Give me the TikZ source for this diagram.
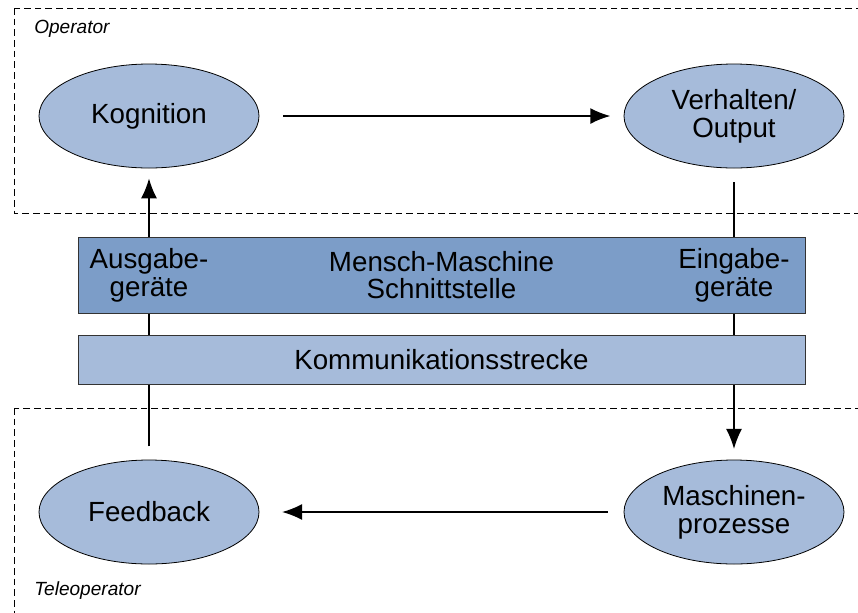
\documentclass[tikz,border=0pt]{standalone}
\usepackage{fontspec}
\setmainfont{Liberation Sans}
\usetikzlibrary{shapes.geometric,arrows.meta}
\definecolor{ellblue}{HTML}{A6BBDA}
\definecolor{mmsblue}{HTML}{7C9DC8}
\definecolor{komblue}{HTML}{A6BBDA}
\tikzset{
	zustand/.style={ellipse, draw, line width=0.6pt, fill=ellblue, minimum width=165pt, minimum height=78pt, inner sep=0pt, align=center, font=\fontsize{20.8}{20.8}\selectfont},
	balken/.style={rectangle, draw=black!80, line width=0.7pt, minimum width=545.25pt, inner sep=0pt, align=center, font=\fontsize{20.8}{20.8}\selectfont},
	bereich/.style={dashed, line width=0.6pt, dash pattern=on 5pt off 3pt},
	fluss/.style={line width=1.1pt, -{Latex[length=15pt,width=12pt]}},
	marke/.style={font=\fontsize{14.3}{16}\selectfont\itshape, inner sep=0pt, anchor=base west}
}
\begin{document}
\begin{tikzpicture}[x=0.75pt, y=-0.75pt]
	\useasboundingbox (0,0) rectangle (858,612);
	% Bereiche
	\draw[bereich] (14,8) rectangle (900,213);
	\draw[bereich] (14,408) rectangle (900,650);
	\node[marke] (op) at (34,33) {Operator};
	\node[marke] (teleop) at (34,595) {Teleoperator};
	% Zustaende
	\node[zustand] (kog) at (149,116) {Kognition};
	\node[zustand] (verh) at (734,116) {Verhalten/\\Output};
	\node[zustand] (masch) at (734,512) {Maschinen-\\prozesse};
	\node[zustand] (feed) at (149,512) {Feedback};
	% Pfeile
	\draw[fluss, shorten <=18pt, shorten >=10pt] (kog) -- (verh);
	\draw[fluss, shorten <=10.5pt, shorten >=8pt] (verh) -- (masch);
	\draw[fluss, shorten <=12pt, shorten >=17pt] (masch) -- (feed);
	\draw[fluss, shorten <=10pt, shorten >=7.5pt] (feed) -- (kog);
	% Schnittstelle und Strecke
	\node[balken, fill=mmsblue, minimum height=57pt] (mms) at (441.5,275) {Mensch-Maschine\\Schnittstelle};
	\node[balken, fill=komblue, minimum height=36.75pt] (kom) at (441.5,359.5) {Kommunikationsstrecke};
	\node[align=center, font=\fontsize{20.8}{20.8}\selectfont, inner sep=0pt] (ausg) at (149,275) {Ausgabe-\\geräte};
	\node[align=center, font=\fontsize{20.8}{20.8}\selectfont, inner sep=0pt] (eing) at (734,275) {Eingabe-\\geräte};
\end{tikzpicture}
\end{document}
